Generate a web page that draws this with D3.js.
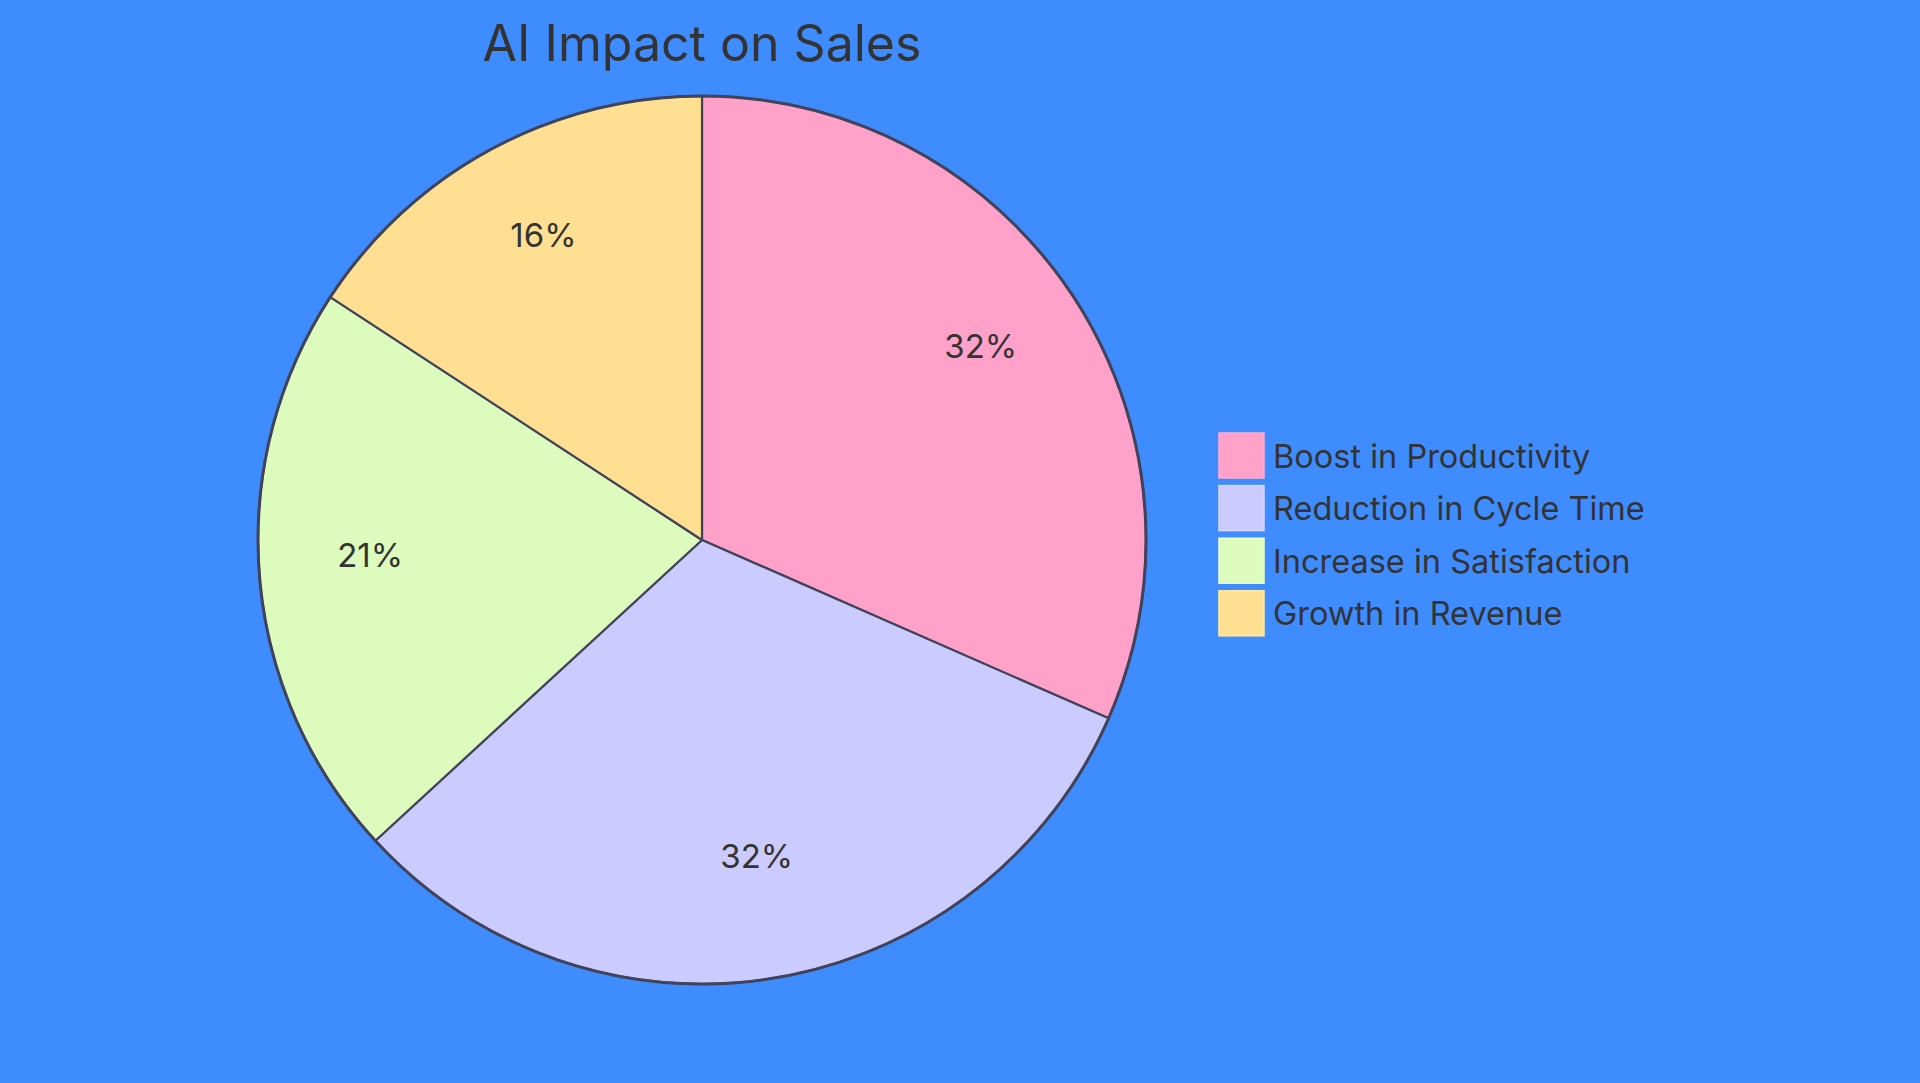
<!DOCTYPE html>
<html>
<head>
<meta charset="utf-8">
<script src="https://cdn.jsdelivr.net/npm/d3@7"></script>
<style>
  html, body { margin: 0; padding: 0; background: #3f8cff; overflow: hidden; }
  svg { display: block; }
  text { font-family: Inter, "Noto Sans", sans-serif; fill: #333333; }
</style>
</head>
<body>
<svg id="chart" width="1920" height="1083"></svg>
<script>
const chartTitle = "AI Impact on Sales";
const categories = ["Boost in Productivity", "Reduction in Cycle Time", "Increase in Satisfaction", "Growth in Revenue"];
const values = [30, 30, 20, 15];
const sliceColors = ["#ffa1c9", "#cbcbff", "#dcfbbc", "#ffdf91"];

const width = 1920, height = 1083;
const cx = 702, cy = 540, radius = 444;

const svg = d3.select("#chart");

svg.append("rect")
  .attr("width", width)
  .attr("height", height)
  .attr("fill", "#3f8cff");

const color = d3.scaleOrdinal().domain(categories).range(sliceColors);
const total = d3.sum(values);

const pie = d3.pie().sort(null).value(d => d.value);
const data = categories.map((c, i) => ({ name: c, value: values[i] }));

const arc = d3.arc().innerRadius(0).outerRadius(radius);
const labelArc = d3.arc().innerRadius(radius * 0.75).outerRadius(radius * 0.75);

const g = svg.append("g").attr("transform", `translate(${cx},${cy})`);

g.selectAll("path.slice")
  .data(pie(data))
  .join("path")
  .attr("class", "slice")
  .attr("d", arc)
  .attr("fill", d => color(d.data.name))
  .attr("stroke", "#41435a")
  .attr("stroke-width", 2.2)
  .attr("stroke-linejoin", "round");

// outer ring
g.append("circle")
  .attr("r", radius)
  .attr("fill", "none")
  .attr("stroke", "#41435a")
  .attr("stroke-width", 3);

g.selectAll("text.label")
  .data(pie(data))
  .join("text")
  .attr("class", "label")
  .attr("transform", d => `translate(${labelArc.centroid(d)})`)
  .attr("text-anchor", "middle")
  .style("font-size", "33px")
  .text(d => ((d.data.value / total) * 100).toFixed(0) + "%");

// title
svg.append("text")
  .attr("x", cx)
  .attr("y", 61)
  .attr("text-anchor", "middle")
  .style("font-size", "50px")
  .text(chartTitle);

// legend
const legend = svg.append("g").attr("transform", "translate(1219,433)");
const item = legend.selectAll("g")
  .data(categories)
  .join("g")
  .attr("transform", (d, i) => `translate(0,${i * 52.6})`);

item.append("rect")
  .attr("width", 45)
  .attr("height", 45)
  .attr("fill", d => color(d))
  .attr("stroke", d => d3.color(color(d)).brighter(0.15))
  .attr("stroke-width", 1.5);

item.append("text")
  .attr("x", 54)
  .attr("y", 34.7)
  .style("font-size", "32.5px")
  .text(d => d);
</script>
</body>
</html>
